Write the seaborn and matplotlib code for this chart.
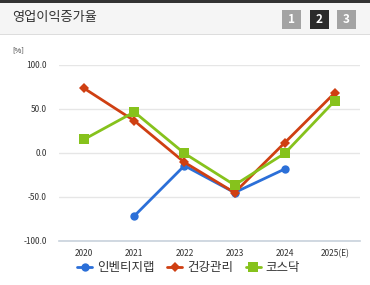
import numpy as np
import pandas as pd
import seaborn as sns
import matplotlib.pyplot as plt
from matplotlib.patches import Rectangle

# values
years = ["2020", "2021", "2022", "2023", "2024", "2025(E)"]
inventage = [np.nan, -71.6, -14.4, -45.0, -18.2, np.nan]
healthcare = [73.5, 36.7, -10.6, -45.0, 11.7, 68.5]
kosdaq = [15.5, 46.6, -0.4, -36.4, -0.4, 59.5]
series_names = ["인벤티지랩", "건강관리", "코스닥"]
yticks = [-100, -50, 0, 50, 100]

df = pd.DataFrame({
    "year": years * 3,
    "value": inventage + healthcare + kosdaq,
    "name": [n for n in series_names for _ in years],
})
df["pos"] = df["year"].map({y: i for i, y in enumerate(years)})
df = df.dropna()

sns.set_style("white")
plt.rcParams["font.family"] = ["Noto Sans CJK KR", "DejaVu Sans"]

fig = plt.figure(figsize=(3.7, 2.85), dpi=100)

# header band
fig.patches.append(Rectangle((0, 1 - 34 / 285), 1, 32 / 285, transform=fig.transFigure,
                             facecolor="#f5f5f5", edgecolor="none", zorder=0))
fig.patches.append(Rectangle((0, 1 - 3 / 285), 1, 3 / 285, transform=fig.transFigure,
                             facecolor="#333333", edgecolor="none", zorder=1))
fig.patches.append(Rectangle((0, 1 - 35 / 285), 1, 1 / 285, transform=fig.transFigure,
                             facecolor="#dddddd", edgecolor="none", zorder=1))
fig.text(12 / 370, 1 - 18 / 285, "영업이익증가율", fontsize=9.5, color="#333333", va="center")
for i, (lab, col) in enumerate(zip(["1", "2", "3"], ["#a3a3a3", "#2b2b2b", "#a3a3a3"])):
    x0 = (282 + i * 27.5) / 370
    fig.patches.append(Rectangle((x0, 1 - 29 / 285), 19 / 370, 19 / 285, transform=fig.transFigure,
                                 facecolor=col, edgecolor="none", zorder=2))
    fig.text(x0 + 9.5 / 370, 1 - 19.5 / 285, lab, fontsize=8.5, color="white",
             ha="center", va="center", fontweight="bold", zorder=3)

ax = fig.add_axes([59 / 370, 44 / 285, 301 / 370, 176 / 285])

palette = {"인벤티지랩": "#2b6fd8", "건강관리": "#cf3f12", "코스닥": "#86c21c"}
markers = {"인벤티지랩": "o", "건강관리": "D", "코스닥": "s"}
sizes = {"인벤티지랩": 6, "건강관리": 5, "코스닥": 7}

for name in series_names:
    sub = df[df["name"] == name]
    sns.lineplot(data=sub, x="pos", y="value", ax=ax, color=palette[name],
                 marker=markers[name], markersize=sizes[name], markeredgewidth=0,
                 linewidth=2, label=name)

ax.set_xlim(-0.5, len(years) - 0.5)
ax.set_ylim(-100, 100)
ax.set_xticks(range(len(years)))
ax.set_xticklabels(years)
ax.set_yticks(yticks)
ax.set_yticklabels([f"{v:.1f}" for v in yticks])
ax.set_xlabel("")
ax.set_ylabel("")
ax.yaxis.grid(True, color="#e6e6e6", linewidth=1)
ax.set_axisbelow(True)
for s in ["top", "right", "left"]:
    ax.spines[s].set_visible(False)
ax.spines["bottom"].set_color("#c8d2dc")
ax.spines["bottom"].set_linewidth(1.2)
ax.tick_params(axis="y", length=0, pad=9, labelsize=6, labelcolor="#333333")
ax.tick_params(axis="x", length=0, pad=6, labelsize=6, labelcolor="#333333")
# ticks between categories
ax.set_xticks(np.arange(-0.5, len(years), 1), minor=True)
ax.tick_params(axis="x", which="minor", length=4, color="#c8d2dc", width=1)

fig.text(12 / 370, 1 - 50 / 285, "[%]", fontsize=5.5, color="#333333", va="center")

ax.get_legend().remove()
handles, labels = ax.get_legend_handles_labels()
fig.legend(handles, labels, loc="center", bbox_to_anchor=(0.51, 1 - 268 / 285), ncol=3,
           frameon=False, fontsize=9, handlelength=1.2, handletextpad=0.4,
           columnspacing=1.0, labelcolor="#333333")

plt.savefig("out.png", dpi=100)
